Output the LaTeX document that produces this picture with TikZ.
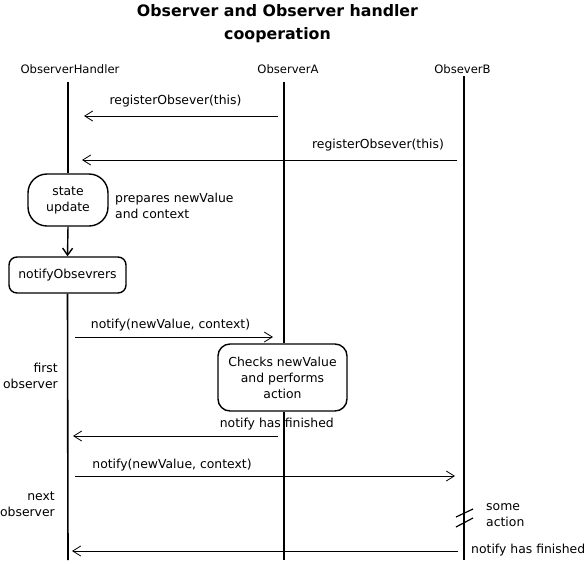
\documentclass[tikz,border=0pt]{standalone}
\usepackage{fontspec}
\setmainfont{DejaVu Sans}
\usetikzlibrary{arrows.meta}
\begin{document}
\begin{tikzpicture}[x=1pt,y=-1pt,
  lbl/.style={inner sep=0pt,font=\fontsize{12.4}{16}\selectfont},
  hdr/.style={inner sep=0pt,font=\fontsize{11.6}{13}\selectfont},
  life/.style={line width=1.6pt},
  msg/.style={line width=0.8pt,-{Straight Barb[length=8pt,width=10pt,line width=0.8pt]}},
  act/.style={draw,line width=1.4pt,rounded corners=14pt,align=center,inner sep=0pt,font=\fontsize{12.4}{16}\selectfont},
]
\useasboundingbox[fill=white] (0,0) rectangle (584,563);
% title
\node[inner sep=0pt,align=center,font=\bfseries\fontsize{15.8}{23}\selectfont] (title) at (277.5,23.5) {Observer and Observer handler\\cooperation};
% headers
\node[hdr] (hH) at (70,69) {ObserverHandler};
\node[hdr] (hA) at (288,69) {ObserverA};
\node[hdr] (hB) at (462.5,69) {ObseverB};
% activity boxes on handler
\node[act,rounded corners=19pt,minimum width=80pt,minimum height=52pt] (state) at (68,200) {state\\update};
\node[act,rounded corners=8pt,minimum width=117pt,minimum height=36pt] (notifyall) at (67.5,275) {notifyObsevrers};
\node[act,rounded corners=12pt,minimum width=129pt,minimum height=67pt] (checks) at (282.5,377.5) {Checks newValue\\and performs\\action};
% lifeline coordinates
\coordinate (Htop) at (68,82);
\coordinate (Hbot) at (68,560);
\coordinate (Atop) at (284,82);
\coordinate (Abot) at (284,560);
\coordinate (Btop) at (464,76);
\coordinate (Bbot) at (464,560);
\draw[life] (Htop) -- (state.north);
\draw[life] (notifyall.south) -- (Hbot);
\draw[life] (Atop) -- (checks.north -| Atop);
\draw[life] (checks.south -| Atop) -- (Abot);
\draw[life] (Btop) -- (Bbot);
\draw[line width=1.4pt,-{Straight Barb[length=7pt,width=10pt,line width=1.4pt]}] (state.south) -- (notifyall.north);
% message coordinates
\coordinate (m1s) at (278,116); \coordinate (m1e) at (84,116);
\coordinate (m2s) at (457,160); \coordinate (m2e) at (82,160);
\coordinate (m3s) at (75,337);  \coordinate (m3e) at (273,337);
\coordinate (m4s) at (278,436); \coordinate (m4e) at (73,436);
\coordinate (m5s) at (75,476);  \coordinate (m5e) at (455,476);
\coordinate (m6s) at (458,551); \coordinate (m6e) at (72,551);
\draw[msg] (m1s) -- (m1e);
\draw[msg] (m2s) -- (m2e);
\draw[msg] (m3s) -- (m3e);
\draw[msg] (m4s) -- (m4e);
\draw[msg] (m5s) -- (m5e);
\draw[msg] (m6s) -- (m6e);
% labels
\node[lbl] (l1) at (175.5,101) {registerObsever(this)};
\node[lbl] (l2) at (378,145) {registerObsever(this)};
\node[lbl,anchor=west,align=left] (l3) at (115,206) {prepares newValue\\and context};
\node[lbl] (l4) at (170.5,325) {notify(newValue, context)};
\node[lbl,anchor=east,align=right] (l5) at (58,376) {first\\observer};
\node[lbl,anchor=east] (l6) at (334,424) {notify has finished};
\node[lbl] (l7) at (172,465) {notify(newValue, context)};
\node[lbl,anchor=east,align=right] (l8) at (55,504) {next\\observer};
\node[lbl,anchor=west,align=left] (l9) at (486,515) {some\\action};
\node[lbl,anchor=west] (l10) at (471,550) {notify has finished};
% break marks
\coordinate (b1a) at (456,517); \coordinate (b1b) at (473,509);
\coordinate (b2a) at (456,527); \coordinate (b2b) at (473,518);
\draw[line width=1.2pt] (b1a) -- (b1b);
\draw[line width=1.2pt] (b2a) -- (b2b);
\end{tikzpicture}
\end{document}
